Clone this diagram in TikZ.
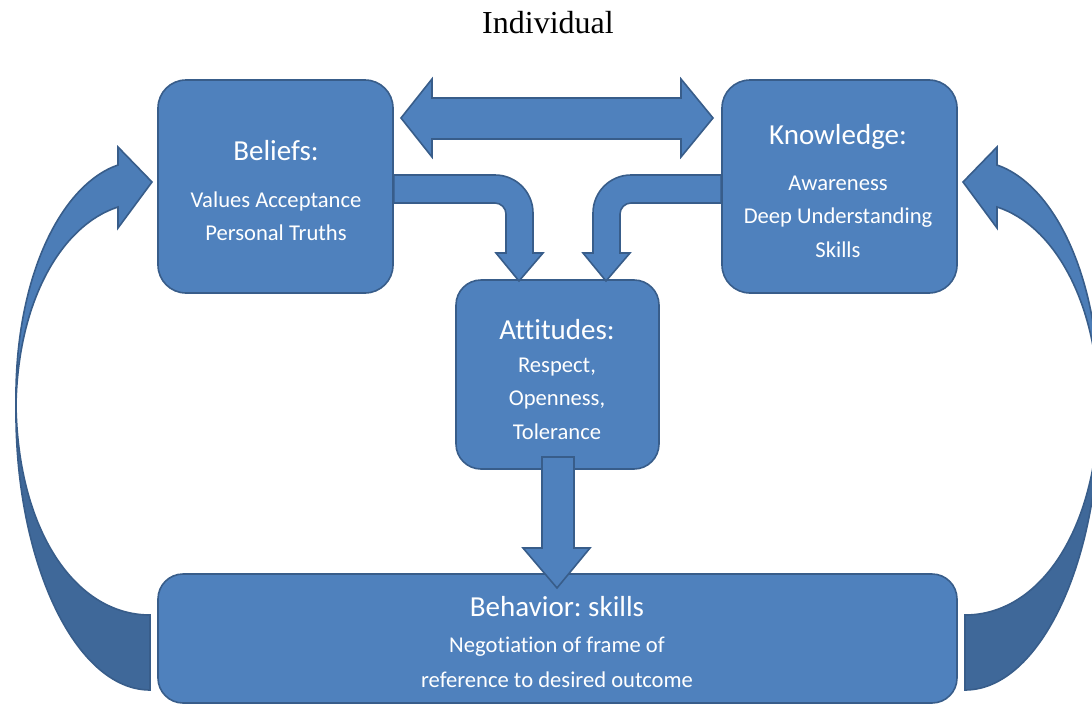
\documentclass[tikz,border=0pt]{standalone}
\usepackage{fontspec}
\setmainfont{Carlito}[Ligatures={NoCommon}]
\newfontfamily\titlefont{Liberation Serif}
\frenchspacing
\begin{document}
\begin{tikzpicture}[x=1pt,y=-1pt,
  boxstyle/.style={draw=bordc,fill=fillc,line width=1.6pt},
  arrowstyle/.style={draw=bordc,fill=fillc,line width=1.6pt,line join=miter},
  darkarrow/.style={draw=bordc,fill=darkc,line width=1.6pt},
  boxtext/.style={text=white,anchor=base,inner sep=0pt},
  headtext/.style={boxtext,font=\fontsize{29}{32}\selectfont},
  bodytext/.style={boxtext,font=\fontsize{22.6}{26}\selectfont}]
\definecolor{fillc}{HTML}{4F81BD}
\definecolor{bordc}{HTML}{385D8A}
\definecolor{darkc}{HTML}{3F6899}
\definecolor{upc}{HTML}{4C7DB7}
\useasboundingbox (0,0) rectangle (1092,704);
\clip (0,0) rectangle (1092,704);

% title
\node[anchor=base,inner sep=0pt,font=\titlefont\fontsize{32}{35}\selectfont] (title) at (548,33) {Individual};

% curved arrows (left, then mirrored right)
\foreach \sx/\sh in {1/0,-1/1115}{
\begin{scope}[xshift=\sh pt,xscale=\sx]
  \draw[darkarrow] (16,405) .. controls (18,530) and (75,615) .. (150,615)
     -- (150,690) .. controls (75,690) and (14,560) .. (16,405) -- cycle;
  \draw[arrowstyle,fill=upc] (118,165) -- (118,147) -- (152,182) -- (118,228) -- (118,207)
     .. controls (62,225) and (18,300) .. (16,405)
     .. controls (14,280) and (60,185) .. (118,165) -- cycle;
\end{scope}}

% boxes
\node[boxstyle,rounded corners=28pt,minimum width=235pt,minimum height=213pt,inner sep=0pt] (beliefs) at (275.5,186.5) {};
\node[boxstyle,rounded corners=28pt,minimum width=235pt,minimum height=213pt,inner sep=0pt] (knowledge) at (839.5,186.5) {};
\node[boxstyle,rounded corners=25pt,minimum width=203pt,minimum height=189pt,inner sep=0pt] (attitudes) at (557.5,374.5) {};
\node[boxstyle,rounded corners=25pt,minimum width=799pt,minimum height=129pt,inner sep=0pt] (behavior) at (557.5,638.5) {};

% double arrow
\draw[arrowstyle] (401,118) -- (432,79) -- (432,98) -- (681,98) -- (681,79) -- (713,118)
   -- (681,157) -- (681,139) -- (432,139) -- (432,157) -- cycle;

% bent arrow from beliefs
\draw[arrowstyle] (beliefs.east |- 0,175) -- (495,175) .. controls (516,175) and (533,192) .. (533,213)
   -- (533,253) -- (543,253) -- (519,281) -- (496,253) -- (506,253) -- (506,214)
   .. controls (506,208) and (501,203) .. (495,203) -- (beliefs.east |- 0,203) -- cycle;

% bent arrow from knowledge
\draw[arrowstyle] (knowledge.west |- 0,175) -- (631,175) .. controls (610,175) and (593,192) .. (593,213)
   -- (593,253) -- (583,253) -- (606,281) -- (630,253) -- (620,253) -- (620,214)
   .. controls (620,208) and (625,203) .. (631,203) -- (knowledge.west |- 0,203) -- cycle;

% down arrow
\draw[arrowstyle] (542,457) -- (574,457) -- (574,548) -- (590,548) -- (557,588) -- (523,548) -- (542,548) -- cycle;

% texts
\node[headtext] (tb1) at (276,160) {Beliefs:};
\node[bodytext] (tb2) at (276,207) {Values Acceptance};
\node[bodytext] (tb3) at (276,240) {Personal Truths};

\node[headtext] (tk1) at (838,144) {Knowledge:};
\node[bodytext] (tk2) at (838,190) {Awareness};
\node[bodytext] (tk3) at (838,223) {Deep Understanding};
\node[bodytext] (tk4) at (838,257) {Skills};

\node[headtext] (ta1) at (557,339) {Attitudes:};
\node[bodytext] (ta2) at (557,372) {Respect,};
\node[bodytext] (ta3) at (557,405) {Openness,};
\node[bodytext] (ta4) at (557,439) {Tolerance};

\node[headtext] (tv1) at (557,616) {Behavior: skills};
\node[bodytext] (tv2) at (557,652) {Negotiation of frame of};
\node[bodytext] (tv3) at (557,687) {reference to desired outcome};
\end{tikzpicture}
\end{document}
